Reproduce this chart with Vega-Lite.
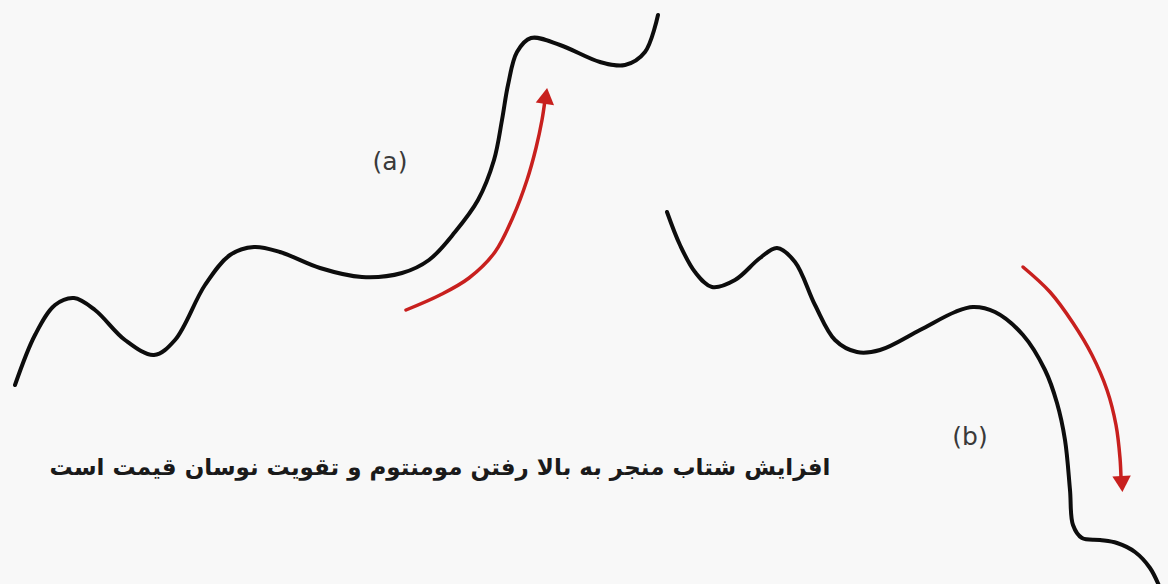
{
  "$schema": "https://vega.github.io/schema/vega-lite/v6.json",
  "width": 1168,
  "height": 584,
  "padding": 0,
  "autosize": {"type": "none"},
  "background": "#f8f8f8",
  "config": {"view": {"stroke": null}},
  "datasets": {
    "curves": [
      {"s": "a", "i": 0, "x": 15, "y": 385}, {"s": "a", "i": 1, "x": 35, "y": 335}, {"s": "a", "i": 2, "x": 55, "y": 305}, {"s": "a", "i": 3, "x": 74, "y": 298}, {"s": "a", "i": 4, "x": 95, "y": 310}, {"s": "a", "i": 5, "x": 125, "y": 340}, {"s": "a", "i": 6, "x": 154, "y": 355}, {"s": "a", "i": 7, "x": 175, "y": 340}, {"s": "a", "i": 8, "x": 205, "y": 285}, {"s": "a", "i": 9, "x": 230, "y": 255}, {"s": "a", "i": 10, "x": 254, "y": 247}, {"s": "a", "i": 11, "x": 280, "y": 252}, {"s": "a", "i": 12, "x": 320, "y": 268}, {"s": "a", "i": 13, "x": 362, "y": 277}, {"s": "a", "i": 14, "x": 402, "y": 273}, {"s": "a", "i": 15, "x": 429, "y": 260}, {"s": "a", "i": 16, "x": 455, "y": 232}, {"s": "a", "i": 17, "x": 478, "y": 200}, {"s": "a", "i": 18, "x": 494, "y": 160}, {"s": "a", "i": 19, "x": 502, "y": 120}, {"s": "a", "i": 20, "x": 508, "y": 85}, {"s": "a", "i": 21, "x": 517, "y": 52}, {"s": "a", "i": 22, "x": 531, "y": 38}, {"s": "a", "i": 23, "x": 560, "y": 45}, {"s": "a", "i": 24, "x": 600, "y": 62}, {"s": "a", "i": 25, "x": 625, "y": 65}, {"s": "a", "i": 26, "x": 645, "y": 52}, {"s": "a", "i": 27, "x": 658, "y": 15},
      {"s": "b", "i": 0, "x": 667, "y": 212}, {"s": "b", "i": 1, "x": 680, "y": 245}, {"s": "b", "i": 2, "x": 695, "y": 272}, {"s": "b", "i": 3, "x": 712, "y": 287}, {"s": "b", "i": 4, "x": 735, "y": 280}, {"s": "b", "i": 5, "x": 760, "y": 258}, {"s": "b", "i": 6, "x": 777, "y": 248}, {"s": "b", "i": 7, "x": 795, "y": 262}, {"s": "b", "i": 8, "x": 815, "y": 305}, {"s": "b", "i": 9, "x": 835, "y": 340}, {"s": "b", "i": 10, "x": 857, "y": 352}, {"s": "b", "i": 11, "x": 880, "y": 350}, {"s": "b", "i": 12, "x": 920, "y": 330}, {"s": "b", "i": 13, "x": 955, "y": 312}, {"s": "b", "i": 14, "x": 973, "y": 307}, {"s": "b", "i": 15, "x": 995, "y": 312}, {"s": "b", "i": 16, "x": 1023, "y": 335}, {"s": "b", "i": 17, "x": 1045, "y": 370}, {"s": "b", "i": 18, "x": 1057, "y": 403}, {"s": "b", "i": 19, "x": 1065, "y": 440}, {"s": "b", "i": 20, "x": 1070, "y": 490}, {"s": "b", "i": 21, "x": 1073, "y": 525}, {"s": "b", "i": 22, "x": 1082, "y": 538}, {"s": "b", "i": 23, "x": 1100, "y": 540}, {"s": "b", "i": 24, "x": 1117, "y": 543}, {"s": "b", "i": 25, "x": 1135, "y": 552}, {"s": "b", "i": 26, "x": 1150, "y": 568}, {"s": "b", "i": 27, "x": 1160, "y": 588}
    ],
    "arrows": [
      {"s": "up", "i": 0, "x": 406, "y": 310}, {"s": "up", "i": 1, "x": 440, "y": 295}, {"s": "up", "i": 2, "x": 469, "y": 278}, {"s": "up", "i": 3, "x": 495, "y": 252}, {"s": "up", "i": 4, "x": 513, "y": 217}, {"s": "up", "i": 5, "x": 527, "y": 180}, {"s": "up", "i": 6, "x": 536, "y": 148}, {"s": "up", "i": 7, "x": 542, "y": 120}, {"s": "up", "i": 8, "x": 545, "y": 100},
      {"s": "down", "i": 0, "x": 1023, "y": 267}, {"s": "down", "i": 1, "x": 1050, "y": 292}, {"s": "down", "i": 2, "x": 1073, "y": 323}, {"s": "down", "i": 3, "x": 1092, "y": 355}, {"s": "down", "i": 4, "x": 1107, "y": 390}, {"s": "down", "i": 5, "x": 1116, "y": 425}, {"s": "down", "i": 6, "x": 1120, "y": 458}, {"s": "down", "i": 7, "x": 1121, "y": 478}
    ],
    "heads": [
      {"shape": "triangle-up", "x": 546, "y": 96, "angle": 8},
      {"shape": "triangle-down", "x": 1122, "y": 484, "angle": -3}
    ],
    "labels": [
      {"t": "(a)", "x": 390, "y": 162},
      {"t": "(b)", "x": 970, "y": 437}
    ],
    "caption": [
      {"t": "افزایش شتاب منجر به بالا رفتن مومنتوم و تقویت نوسان قیمت است", "x": 440, "y": 468}
    ]
  },
  "layer": [
    {
      "data": {"name": "curves"},
      "mark": {"type": "line", "interpolate": "catmull-rom", "color": "#0d0d0d", "strokeWidth": 4, "strokeCap": "round", "clip": true},
      "encoding": {
        "x": {"field": "x", "type": "quantitative", "scale": {"domain": [0, 1168], "nice": false, "zero": false}, "axis": null},
        "y": {"field": "y", "type": "quantitative", "scale": {"domain": [584, 0], "nice": false, "zero": false}, "axis": null},
        "detail": {"field": "s"},
        "order": {"field": "i"}
      }
    },
    {
      "data": {"name": "arrows"},
      "mark": {"type": "line", "interpolate": "catmull-rom", "color": "#c8201e", "strokeWidth": 3.5, "strokeCap": "round"},
      "encoding": {
        "x": {"field": "x", "type": "quantitative"},
        "y": {"field": "y", "type": "quantitative"},
        "detail": {"field": "s"},
        "order": {"field": "i"}
      }
    },
    {
      "data": {"name": "heads"},
      "mark": {"type": "point", "filled": true, "color": "#c8201e", "size": 340, "opacity": 1},
      "encoding": {
        "x": {"field": "x", "type": "quantitative"},
        "y": {"field": "y", "type": "quantitative"},
        "shape": {"field": "shape", "type": "nominal", "scale": null},
        "angle": {"field": "angle", "type": "quantitative", "scale": null}
      }
    },
    {
      "data": {"name": "labels"},
      "mark": {"type": "text", "font": "DejaVu Sans", "fontSize": 25, "color": "#3a3a3a", "align": "center", "baseline": "middle"},
      "encoding": {
        "x": {"field": "x", "type": "quantitative"},
        "y": {"field": "y", "type": "quantitative"},
        "text": {"field": "t"}
      }
    },
    {
      "data": {"name": "caption"},
      "mark": {"type": "text", "font": "DejaVu Sans", "fontSize": 23, "fontWeight": "bold", "color": "#1a1a1a", "align": "center", "baseline": "middle"},
      "encoding": {
        "x": {"field": "x", "type": "quantitative"},
        "y": {"field": "y", "type": "quantitative"},
        "text": {"field": "t"}
      }
    }
  ]
}
